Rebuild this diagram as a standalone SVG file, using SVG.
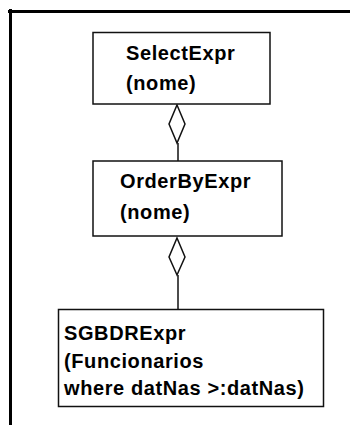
<svg xmlns="http://www.w3.org/2000/svg" width="350" height="425" viewBox="0 0 350 425">
<style>
.box{fill:#fff;stroke:#111;stroke-width:1.5}
.t{font-family:"Liberation Sans",Arial,sans-serif;font-weight:bold;font-size:20px;letter-spacing:0.6px;fill:#000}
.ln{stroke:#111;stroke-width:1.5;fill:none}
.dia{fill:#fff;stroke:#111;stroke-width:1.5}
</style>
<rect width="350" height="425" fill="#fff"/>
<g id="frame">
<line x1="8" y1="11.5" x2="350" y2="11.5" stroke="#000" stroke-width="3"/>
<line x1="10.5" y1="9" x2="10.5" y2="425" stroke="#000" stroke-width="3"/>
</g>
<g id="connectors">
<line class="ln" x1="178" y1="143" x2="178" y2="161"/>
<polygon class="dia" points="177,105 185,124 177,143 169,124"/>
<line class="ln" x1="178" y1="275" x2="178" y2="309"/>
<polygon class="dia" points="177,238 185,257 177,275 169,257"/>
</g>
<g id="SelectExpr">
<rect class="box" x="93" y="32.5" width="177" height="71.5"/>
<text class="t" x="126" y="60">SelectExpr</text>
<text class="t" x="126" y="90">(nome)</text>
</g>
<g id="OrderByExpr">
<rect class="box" x="93" y="161" width="189" height="75"/>
<text class="t" x="120" y="188">OrderByExpr</text>
<text class="t" x="120" y="219">(nome)</text>
</g>
<g id="SGBDRExpr">
<rect class="box" x="58.5" y="309.5" width="265" height="97"/>
<text class="t" x="64" y="340">SGBDRExpr</text>
<text class="t" x="64" y="368">(Funcionarios</text>
<text class="t" x="64" y="395">where datNas &gt;:datNas)</text>
</g>
</svg>
